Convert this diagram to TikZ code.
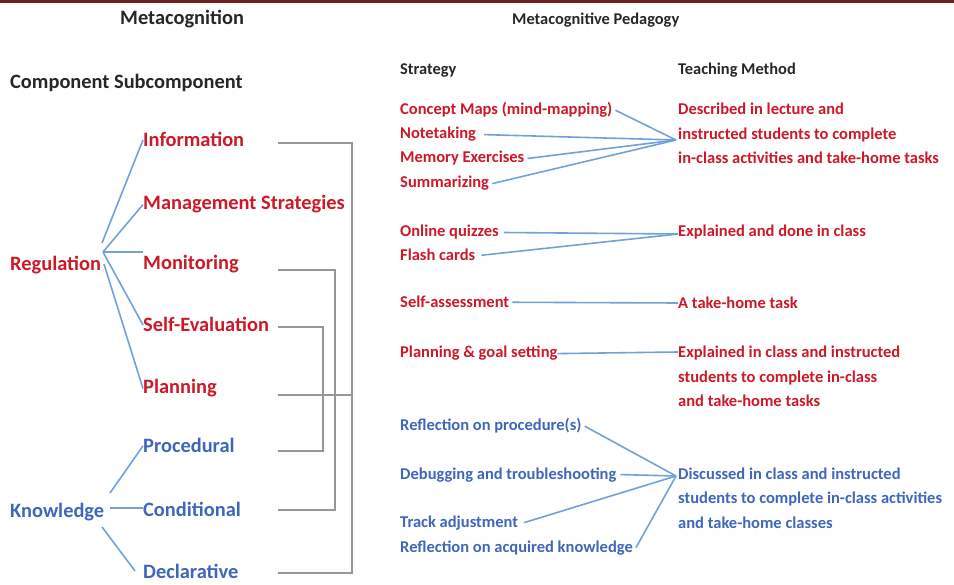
\documentclass[tikz,border=0pt]{standalone}
\usepackage{fontspec}
\setmainfont{Carlito}
\definecolor{metared}{RGB}{204,24,40}
\definecolor{metablue}{RGB}{62,102,186}
\definecolor{linkblue}{RGB}{112,162,216}
\definecolor{bargray}{RGB}{150,150,150}
\definecolor{topbar}{RGB}{112,30,30}

\begin{document}
\begin{tikzpicture}[x=1pt,y=-1pt]
    \tikzstyle{head}=[anchor=base west, inner sep=0pt, text=black!85, font=\fontsize{20.4}{24}\selectfont\bfseries]
    \tikzstyle{subhead}=[anchor=base west, inner sep=0pt, text=black!85, font=\fontsize{16.4}{20}\selectfont\bfseries]
    \tikzstyle{comp}=[anchor=base west, inner sep=0pt, font=\fontsize{20.4}{24}\selectfont\bfseries]
    \tikzstyle{strat}=[anchor=base west, inner sep=0pt, align=left, font=\fontsize{16.5}{24.5}\selectfont\bfseries]
    \tikzstyle{link}=[linkblue, line width=1.6pt]
    \tikzstyle{bracket}=[bargray, line width=1.2pt]

    \useasboundingbox (0,0) rectangle (954,585);
    \fill[topbar] (0,0) rectangle (954,3);

    % titles
    \node[head] (mc) at (120,25) {Metacognition};
    \node[subhead] (mp) at (512,25) {Metacognitive Pedagogy};
    \node[head] (cs) at (10,89) {Component Subcomponent};
    \node[subhead] (st) at (400,75) {Strategy};
    \node[subhead] (tm) at (678,75) {Teaching Method};

    % components
    \node[comp, text=metared] (reg) at (10,271) {Regulation};
    \node[comp, text=metablue] (know) at (10,517) {Knowledge};

    % subcomponents
    \node[comp, text=metared] (info) at (143,147) {Information};
    \node[comp, text=metared] (mgmt) at (143,210) {Management Strategies};
    \node[comp, text=metared] (mon) at (143,270) {Monitoring};
    \node[comp, text=metared] (selfev) at (143,332) {Self-Evaluation};
    \node[comp, text=metared] (plan) at (143,394) {Planning};
    \node[comp, text=metablue] (proc) at (143,453) {Procedural};
    \node[comp, text=metablue] (cond) at (143,516) {Conditional};
    \node[comp, text=metablue] (decl) at (143,578) {Declarative};

    \coordinate (regfan) at (103,252);
    \coordinate (regfanb) at (104,264);
    \draw[link] (102,243) -- (info.west);
    \draw[link] (regfan) -- (mgmt.west);
    \draw[link] (regfan) -- (regfan -| mon.west);
    \draw[link] (regfan) -- (selfev.west);
    \draw[link] (regfanb) -- (plan.west);

    \coordinate (kfan) at (110,493);
    \coordinate (kfanb) at (110,508);
    \coordinate (kfanc) at (102,527);
    \draw[link] (kfan) -- (proc.west);
    \draw[link] (kfanb) -- (kfanb -| cond.west);
    \draw[link] (kfanc) -- ([xshift=-8pt]decl.west);

    % grey brackets
    \coordinate (gInfo) at (278,143);
    \coordinate (gMon) at (278,270);
    \coordinate (gSelf) at (278,327);
    \coordinate (gPlan) at (278,395);
    \coordinate (gProc) at (278,451);
    \coordinate (gCond) at (278,510);
    \coordinate (gDecl) at (278,573);
    \draw[bracket] (gInfo) -- ++(74,0) |- (gDecl);
    \draw[bracket] (gPlan) -- ++(74,0);
    \draw[bracket] (gMon) -- ++(57,0) |- (gCond);
    \draw[bracket] (gSelf) -- ++(45,0) |- (gProc);

    % strategies
    \node[strat, text=metared] (cmap) at (400,115) {Concept Maps (mind-mapping)};
    \node[strat, text=metared] (note) at (400,139) {Notetaking};
    \node[strat, text=metared] (memo) at (400,163) {Memory Exercises};
    \node[strat, text=metared] (summ) at (400,188) {Summarizing};
    \node[strat, text=metared] (quiz) at (400,237) {Online quizzes};
    \node[strat, text=metared] (flash) at (400,261) {Flash cards};
    \node[strat, text=metared] (sass) at (400,308) {Self-assessment};
    \node[strat, text=metared] (goal) at (400,358) {Planning \& goal setting};
    \node[strat, text=metablue] (rproc) at (400,431) {Reflection on procedure(s)};
    \node[strat, text=metablue] (debug) at (400,479) {Debugging and troubleshooting};
    \node[strat, text=metablue] (track) at (400,527) {Track adjustment};
    \node[strat, text=metablue] (racq) at (400,552) {Reflection on acquired knowledge};

    % teaching methods (placed at the baseline of their last line)
    \node[strat, text=metared] (lect) at (678,164) {Described in lecture and\\instructed students to complete\\in-class activities and take-home tasks};
    \node[strat, text=metared] (done) at (678,237) {Explained and done in class};
    \node[strat, text=metared] (home) at (678,309) {A take-home task};
    \node[strat, text=metared] (expl) at (678,407) {Explained in class and instructed\\students to complete in-class\\and take-home tasks};
    \node[strat, text=metablue] (disc) at (678,528) {Discussed in class and instructed\\students to complete in-class activities\\and take-home classes};

    \coordinate (fanA) at (676,140);
    \coordinate (fanB) at (678,234);
    \coordinate (fanC) at (678,303);
    \coordinate (fanD) at (678,352);
    \coordinate (fanE) at (676,476);
    \draw[link] ([xshift=3pt]cmap.east) -- (fanA);
    \draw[link] ([xshift=8pt]note.east) -- (fanA);
    \draw[link] ([xshift=3pt]memo.east) -- (fanA);
    \draw[link] ([xshift=3pt]summ.east) -- (fanA);
    \draw[link] ([xshift=5pt]quiz.east) -- (fanB);
    \draw[link] ([xshift=6pt]flash.east) -- (fanB);
    \draw[link] ([xshift=3pt]sass.east) -- (fanC);
    \draw[link] (goal.east) -- (fanD);
    \draw[link] ([xshift=3pt]rproc.east) -- (fanE);
    \draw[link] ([xshift=4pt]debug.east) -- (fanE);
    \draw[link] ([xshift=6pt]track.east) -- (fanE);
    \draw[link] ([xshift=3pt]racq.east) -- (fanE);
\end{tikzpicture}
\end{document}
